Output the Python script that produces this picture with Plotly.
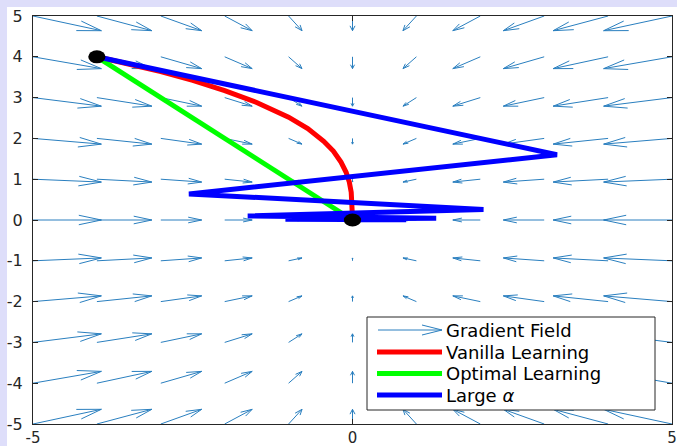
import numpy as np
import plotly.graph_objects as go
import plotly.figure_factory as ff

# ---------------- data ----------------
grid_x = [-5, -4, -3, -2, -1, 0, 1, 2, 3, 4, 5]
grid_y = [-5, -4, -3, -2, -1, 0, 1, 2, 3, 4, 5]
# arrow components (drawn length, data units) per column / per row
field_u = [1.07, 0.86, 0.64, 0.43, 0.21, 0.0, -0.21, -0.43, -0.64, -0.86, -1.07]
field_v = [0.36, 0.29, 0.21, 0.14, 0.07, 0.0, -0.07, -0.14, -0.21, -0.29, -0.36]

vanilla_x = [-4, -3.5, -3, -2.5, -2, -1.5, -1.0, -0.7, -0.45, -0.3, -0.18, -0.1, -0.05, -0.02, -0.006, 0]
vanilla_y = [4, 3.83, 3.64, 3.42, 3.17, 2.88, 2.52, 2.24, 1.93, 1.69, 1.42, 1.17, 0.93, 0.68, 0.43, 0.05]

optimal_x = [-4, 0]
optimal_y = [4, 0]

large_x = [-4, 3.2, -2.56, 2.05, -1.64, 1.31, -1.05, 0.84, -0.67, 0.54, -0.43, 0.34, -0.27, 0.22, -0.18, 0.14, -0.11, 0.09, -0.07, 0.05, 0]
large_y = [4, 1.6, 0.64, 0.26, 0.10, 0.04, 0.017, 0.007, 0.003, 0.001, 0.0005, 0.0002, 0.0001, 0, 0, 0, 0, 0, 0, 0, 0]

dots_x = [-4, 0]
dots_y = [4, 0]

legend_labels = ["Gradient Field", "Vanilla Learning", "Optimal Learning", "Large <i>α</i>"]
x_ticks = [-5, 0, 5]
y_ticks = [-5, -4, -3, -2, -1, 0, 1, 2, 3, 4, 5]

# ---------------- styling ----------------
QUIVER_COLOR = "#2a7fbf"
AX_COLOR = "#262626"
BG = "#dedefa"
W, H = 677, 446
ML, MR, MT, MB = 33, 5, 16, 22
LW = 5

# ---------------- figure ----------------
GX, GY = np.meshgrid(grid_x, grid_y)
GU, GV = np.meshgrid(field_u, field_v)
q = ff.create_quiver(GX.flatten(), GY.flatten(), GU.flatten(), GV.flatten(),
                     scale=1, arrow_scale=0.3475, angle=0.3186,
                     line=dict(width=1, color=QUIVER_COLOR))
fig = go.Figure()
for t in q.data:
    t.showlegend = False
    t.hoverinfo = "skip"
    fig.add_trace(t)

fig.add_trace(go.Scatter(x=vanilla_x, y=vanilla_y, mode="lines",
                         line=dict(color="#ff0000", width=LW), showlegend=False))
fig.add_trace(go.Scatter(x=optimal_x, y=optimal_y, mode="lines",
                         line=dict(color="#00ff00", width=LW), showlegend=False))
fig.add_trace(go.Scatter(x=large_x, y=large_y, mode="lines",
                         line=dict(color="#0000ff", width=LW), showlegend=False))

# black dots (slightly elliptical as in the reference: radius in data units)
RX, RY = 0.135, 0.16
shapes = []
for cx, cy in zip(dots_x, dots_y):
    shapes.append(dict(type="circle", xref="x", yref="y",
                       x0=cx - RX, x1=cx + RX, y0=cy - RY, y1=cy + RY,
                       fillcolor="black", line=dict(color="black", width=0), layer="above"))

# helpers: pixel -> paper
PW = W - ML - MR
PH = H - MT - MB
def fx(px):
    return (px - ML) / PW
def fy(py):
    return (H - MB - py) / PH

# white figure area with lavender border
shapes.insert(0, dict(type="rect", xref="paper", yref="paper",
                      x0=fx(7), x1=fx(W + 2), y0=fy(H + 2), y1=fy(7),
                      fillcolor="white", line=dict(width=0), layer="below"))

# manual legend
shapes.append(dict(type="rect", xref="paper", yref="paper",
                   x0=fx(367), x1=fx(655), y0=fy(410), y1=fy(317),
                   fillcolor="white", line=dict(color=AX_COLOR, width=1), layer="above"))
rows = [330, 352, 373.5, 395]
# arrow sample
ax0, ax1, ay = 378, 442, rows[0]
shapes.append(dict(type="path", xref="paper", yref="paper",
                   path=f"M{fx(ax0)},{fy(ay)} L{fx(ax1)},{fy(ay)} "
                        f"M{fx(ax1-20)},{fy(ay-5)} L{fx(ax1)},{fy(ay)} L{fx(ax1-20)},{fy(ay+5)}",
                   line=dict(color=QUIVER_COLOR, width=1), layer="above"))
for col, ry in zip(["#ff0000", "#00ff00", "#0000ff"], rows[1:]):
    shapes.append(dict(type="line", xref="paper", yref="paper",
                       x0=fx(377), x1=fx(442), y0=fy(ry), y1=fy(ry),
                       line=dict(color=col, width=LW), layer="above"))
annotations = []
for lab, ry in zip(legend_labels, rows):
    annotations.append(dict(xref="paper", yref="paper", x=fx(444), y=fy(ry),
                            xanchor="left", yanchor="middle", text=lab, showarrow=False,
                            font=dict(family="DejaVu Sans", size=18, color="black")))

fig.update_layout(
    width=W, height=H,
    margin=dict(l=ML, r=MR, t=MT, b=MB, pad=0, autoexpand=False),
    paper_bgcolor=BG, plot_bgcolor="white",
    showlegend=False,
    shapes=shapes, annotations=annotations,
    font=dict(family="DejaVu Sans", size=16, color=AX_COLOR),
)
axis_common = dict(showgrid=False, zeroline=False, showline=True, linecolor=AX_COLOR,
                   linewidth=1, mirror="ticks", ticks="inside", ticklen=5, tickwidth=1,
                   automargin=False, tickcolor=AX_COLOR)
fig.update_xaxes(range=[-5, 5], tickvals=x_ticks, ticktext=[str(v) for v in x_ticks],
                 ticklabelstandoff=0,
                 tickfont=dict(family="DejaVu Sans", size=15, color=AX_COLOR), **axis_common)
fig.update_yaxes(range=[-5, 5], tickvals=y_ticks, ticktext=[str(v) for v in y_ticks],
                 ticklabelstandoff=6,
                 tickfont=dict(family="DejaVu Sans", size=16, color=AX_COLOR), **axis_common)

fig.write_html("out.html", config={"displayModeBar": False},
               post_script="document.body.style.margin='0px';document.body.style.overflow='hidden';")
